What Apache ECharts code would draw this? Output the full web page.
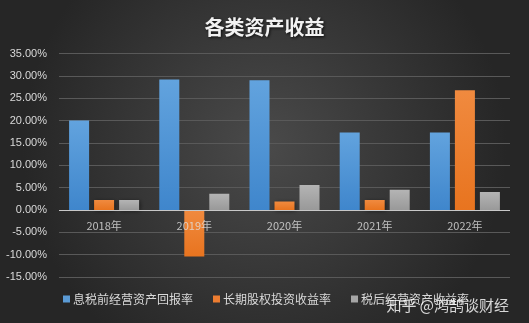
<!DOCTYPE html>
<html><head><meta charset="utf-8">
<script src="https://cdn.jsdelivr.net/npm/echarts@6/dist/echarts.min.js"></script>
<style>html,body{margin:0;padding:0;}#c{width:529px;height:323px;}</style>
</head><body><div id="c"></div>
<script>
const categories = ['2018年','2019年','2020年','2021年','2022年'];
const seriesNames = ['息税前经营资产回报率','长期股权投资收益率','税后经营资产收益率'];
const ebitReturn = [20.0, 29.2, 29.0, 17.3, 17.3];
const equityInvReturn = [2.2, -10.4, 1.9, 2.2, 26.8];
const afterTaxReturn = [2.2, 3.6, 5.6, 4.5, 4.0];
const yTicks = {min: -15, max: 35, step: 5};

const chart = echarts.init(document.getElementById('c'));
function grad(top, bottom){
  return new echarts.graphic.LinearGradient(0,0,0,1,[{offset:0,color:top},{offset:1,color:bottom}]);
}
const colors = [grad('#62a3de','#3f86cc'), grad('#f08a3f','#e8741f'), grad('#b4b4b4','#999999')];
const legendColors = ['#5b9bd5','#ed7d31','#a5a5a5'];
const dataSets = [ebitReturn, equityInvReturn, afterTaxReturn];
const barSeries = dataSets.map((d,i)=>({
  name:seriesNames[i], type:'bar', data:d, barWidth:20, barGap:'25%', z:2,
  itemStyle:{color:colors[i], shadowColor:'rgba(0,0,0,0.5)', shadowBlur:4, shadowOffsetX:1, shadowOffsetY:1},
  markLine: i===0 ? {silent:true, symbol:'none', label:{show:false}, animation:false,
    lineStyle:{color:'#c8c8c8', type:'solid', width:1}, data:[{yAxis:0}]} : undefined
}));
// category labels anchored at the zero line
const catLabelSeries = {
  type:'scatter', name:'_cat', symbolSize:0, silent:true, z:10,
  data: categories.map(c=>[c,0]),
  label:{show:true, position:'bottom', distance:10, formatter:p=>p.data[0],
    color:'#e0e0e0', fontSize:11, fontFamily:'Noto Sans CJK SC'}
};
chart.setOption({
  backgroundColor: new echarts.graphic.RadialGradient(0.5,0.45,0.75,[{offset:0,color:'#4a4a4a'},{offset:1,color:'#262626'}]),
  title: {text:'各类资产收益', left:'center', top:12,
    textStyle:{color:'#f2f2f2', fontSize:20, fontWeight:'bold', fontFamily:'Noto Sans CJK SC',
      textShadowColor:'rgba(0,0,0,0.8)', textShadowBlur:3, textShadowOffsetX:1, textShadowOffsetY:1}},
  grid: {left:59, right:19, top:53.5, bottom:46, containLabel:false},
  legend: {bottom:13, left:58, itemWidth:7, itemHeight:7, itemGap:20, icon:'rect',
    textStyle:{color:'#d9d9d9', fontSize:12, fontFamily:'Noto Sans CJK SC', padding:[0,0,0,-2]},
    data: seriesNames.map((n,i)=>({name:n, itemStyle:{color:legendColors[i]}}))},
  xAxis: {type:'category', data:categories,
    axisLine:{show:false}, axisTick:{show:false}, axisLabel:{show:false}},
  yAxis: {type:'value', min:yTicks.min, max:yTicks.max, interval:yTicks.step,
    axisLine:{show:false}, axisTick:{show:false},
    splitLine:{lineStyle:{color:'#595959', width:1}},
    axisLabel:{color:'#d9d9d9', fontSize:11, margin:12, fontFamily:'Liberation Sans', formatter:v=>v.toFixed(2)+'%'}},
  series: barSeries.concat([catLabelSeries]),
  graphic: [{type:'text', right:20, bottom:10, z:100, style:{text:'知乎 @鸿鹄谈财经', fill:'rgba(255,255,255,0.82)', fontSize:15, fontFamily:'Noto Sans CJK SC'}}]
});
</script></body></html>
